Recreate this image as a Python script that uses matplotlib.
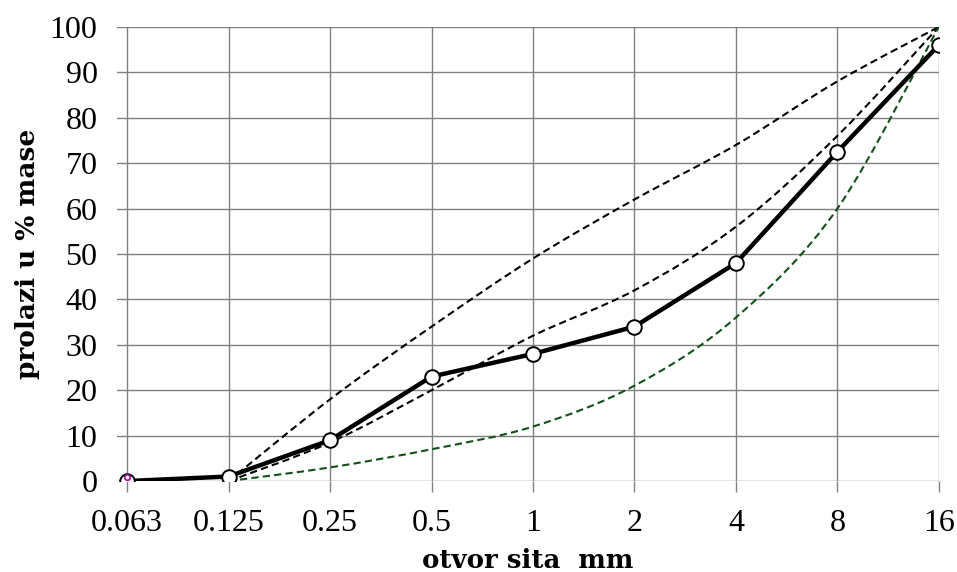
import numpy as np
from matplotlib import pyplot as plt
from matplotlib.path import Path
from matplotlib.patches import PathPatch

# Sieve openings (categories on the x axis)
sieves = ['0.063', '0.125', '0.25', '0.5', '1', '2', '4', '8', '16']

# Passing through each sieve, % by mass
passing = [0, 1, 9, 23, 28, 34, 48, 72.5, 96]
upper_limit = [np.nan, 0, 18, 34, 49, 62, 74, 88, 100]
middle_limit = [np.nan, 0, 8.5, 20, 32, 42, 56, 76, 100]
lower_limit = [np.nan, 0, 3, 7, 12, 21, 36, 60, 100]

x = np.arange(len(sieves))


def smooth_path(xs, ys):
    # Excel-style smoothed line: cubic Bezier through the data points
    pts = np.array([(a, b) for a, b in zip(xs, ys) if not np.isnan(b)], dtype=float)
    verts = [pts[0]]
    codes = [Path.MOVETO]
    n = len(pts)
    for i in range(n - 1):
        p0 = pts[max(i - 1, 0)]
        p1, p2 = pts[i], pts[i + 1]
        p3 = pts[min(i + 2, n - 1)]
        verts += [p1 + (p2 - p0) / 6, p2 - (p3 - p1) / 6, p2]
        codes += [Path.CURVE4] * 3
    return Path(verts, codes)


plt.rcParams['font.family'] = ['Liberation Serif', 'DejaVu Serif']

fig, ax = plt.subplots(figsize=(9.57, 5.72), dpi=100)
fig.subplots_adjust(left=0.1223, right=0.981, top=0.953, bottom=0.159)

dash = (0, (3.5, 2))
for series, col in [(upper_limit, 'k'), (middle_limit, 'k'), (lower_limit, '#12501a')]:
    ax.add_patch(PathPatch(smooth_path(x, series), facecolor='none', edgecolor=col,
                           lw=1.5, ls=dash, zorder=3))

ax.plot(x, passing, color='k', lw=3.2, marker='o', markersize=10.5,
        markerfacecolor='white', markeredgecolor='k', markeredgewidth=1.4, zorder=4)
# small empty series marker at the first sieve
ax.plot(x[:1], [0.8], ls='none', marker='o', markersize=4,
        markerfacecolor='none', markeredgecolor='#a0009a', markeredgewidth=1.2, zorder=5)

ax.set_xlim(-0.1, 8)
ax.set_ylim(0, 100)
ax.set_xticks(x)
ax.set_xticklabels(sieves)
ax.set_yticks(np.arange(0, 101, 10))
ax.tick_params(axis='both', labelsize=23, length=8, color='#808080', width=1)
ax.tick_params(axis='x', pad=12)
ax.tick_params(axis='y', length=0, pad=14)
for s in ax.spines.values():
    s.set_visible(False)
ax.grid(True, color='#808080', lw=1)
ax.set_axisbelow(True)

ax.set_xlabel('otvor sita  mm', fontsize=18.7, fontweight='bold', labelpad=7,
              family='DejaVu Serif')
ax.set_ylabel('prolazi u % mase', fontsize=19, fontweight='bold', labelpad=7,
              family='DejaVu Serif')

plt.savefig('out.png', dpi=100)
